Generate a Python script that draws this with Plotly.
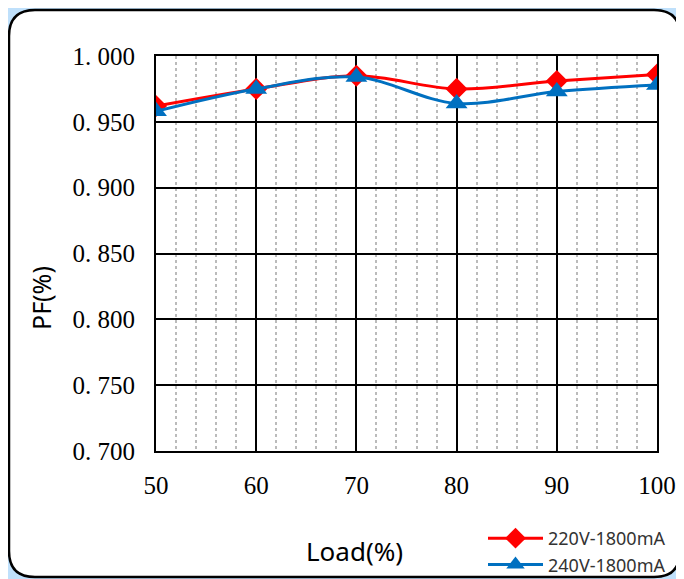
import plotly.graph_objects as go

load = [50, 60, 70, 80, 90, 100]
pf_220 = [0.962, 0.975, 0.985, 0.975, 0.981, 0.986]
pf_240 = [0.958, 0.975, 0.984, 0.964, 0.973, 0.978]
names = ["220V-1800mA", "240V-1800mA"]
y_ticks = [0.70, 0.75, 0.80, 0.85, 0.90, 0.95, 1.00]
y_ticktext = ["0. 700", "0. 750", "0. 800", "0. 850", "0. 900", "0. 950", "1. 000"]
x_ticks = [50, 60, 70, 80, 90, 100]

fig = go.Figure()
fig.add_trace(go.Scatter(x=load, y=pf_220, name=names[0], mode="lines+markers",
                         line=dict(color="#FF0000", width=3, shape="spline", smoothing=1.0),
                         marker=dict(symbol="diamond", size=17, color="#FF0000")))
fig.add_trace(go.Scatter(x=load, y=pf_240, name=names[1], mode="lines+markers",
                         line=dict(color="#0070C0", width=3, shape="spline", smoothing=1.0),
                         marker=dict(symbol="triangle-up", size=19, color="#0070C0")))

OFF = 8  # page body margin
W, H = 684, 579
# plot area in screen coords
PL, PR, PT, PB = 156, 657, 56, 451
L, R, T, B = PL - OFF, W - (PR - OFF), PT - OFF, H - (PB - OFF)

def px(x):
    return (x - PL) / (PR - PL)

def py(y):
    return (PB - y) / (PB - PT)

# rounded border (screen coords)
x0, x1, y0, y1, r = 9, 680, 10, 577, 26
path = (f"M {px(x0+r)} {py(y0)} L {px(x1-r)} {py(y0)} Q {px(x1)} {py(y0)} {px(x1)} {py(y0+r)} "
        f"L {px(x1)} {py(y1-r)} Q {px(x1)} {py(y1)} {px(x1-r)} {py(y1)} "
        f"L {px(x0+r)} {py(y1)} Q {px(x0)} {py(y1)} {px(x0)} {py(y1-r)} "
        f"L {px(x0)} {py(y0+r)} Q {px(x0)} {py(y0)} {px(x0+r)} {py(y0)} Z")

shapes = [
    dict(type="rect", xref="paper", yref="paper", x0=px(0), x1=px(W + 20), y0=py(0), y1=py(H + 20),
         fillcolor="#BFE0FB", line=dict(width=0), layer="below"),
    dict(type="path", xref="paper", yref="paper", path=path, fillcolor="white",
         line=dict(color="black", width=2.5), layer="below"),
]

annotations = [
    dict(text="Load(%)", xref="paper", yref="paper", x=px(354), y=py(551), showarrow=False,
         xanchor="center", yanchor="middle", font=dict(family="Noto Sans", size=26, color="black")),
    dict(text="PF(%)", xref="paper", yref="paper", x=px(41), y=py(298), showarrow=False,
         textangle=-90, xanchor="center", yanchor="middle",
         font=dict(family="Noto Sans", size=25, color="black")),
]

fig.update_layout(
    width=W, height=H,
    margin=dict(l=L, r=R, t=T, b=B, autoexpand=False),
    paper_bgcolor="white", plot_bgcolor="rgba(0,0,0,0)",
    shapes=shapes, annotations=annotations,
    showlegend=True,
    legend=dict(x=px(483), y=py(520), xanchor="left", yanchor="top",
                bgcolor="rgba(0,0,0,0)", font=dict(family="Noto Sans", size=18, color="#333333"),
                tracegroupgap=0, itemwidth=55),
    xaxis=dict(range=[50, 100], tickvals=x_ticks, showgrid=True, gridcolor="black", gridwidth=2,
               tickfont=dict(family="Liberation Serif", size=25, color="black"),
               ticklabelstandoff=11, zeroline=False, automargin=False,
               showline=True, linecolor="black", linewidth=2, mirror=True,
               minor=dict(dtick=2, showgrid=True, gridcolor="#BBBBBB", griddash="dot", gridwidth=1.5)),
    yaxis=dict(range=[0.70, 1.00], tickvals=y_ticks, ticktext=y_ticktext, showgrid=True,
               gridcolor="black", gridwidth=2, zeroline=False, automargin=False,
               tickfont=dict(family="Liberation Serif", size=25, color="black"),
               ticklabelstandoff=14,
               showline=True, linecolor="black", linewidth=2, mirror=True),
)

fig.write_html("out.html")
